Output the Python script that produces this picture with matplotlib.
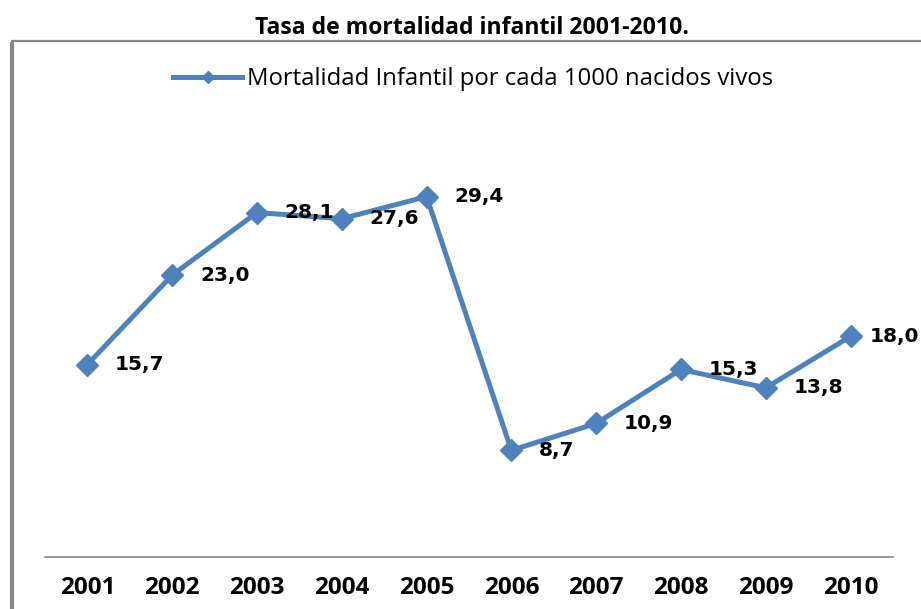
import matplotlib
matplotlib.use("Agg")
import matplotlib.pyplot as plt
from matplotlib.lines import Line2D

years = ["2001", "2002", "2003", "2004", "2005", "2006", "2007", "2008", "2009", "2010"]
mortality = [15.7, 23.0, 28.1, 27.6, 29.4, 8.7, 10.9, 15.3, 13.8, 18.0]
labels = ["15,7", "23,0", "28,1", "27,6", "29,4", "8,7", "10,9", "15,3", "13,8", "18,0"]
title = "Tasa de mortalidad infantil 2001-2010."
series_name = "Mortalidad Infantil por cada 1000 nacidos vivos"

blue = "#4F81BD"
gray = "#868686"

fig = plt.figure(figsize=(9.21, 6.09), dpi=100)
ax = fig.add_axes([45/921, 52/609, 848/921, 429/609])

x = list(range(len(years)))
ax.plot(x, mortality, color=blue, lw=3.6, marker="D", ms=11, mec=blue, mfc=blue, zorder=3)

for xi, yi, lab in zip(x, mortality, labels):
    off = 13.5 if xi == x[-1] else 20
    ax.annotate(lab, (xi, yi), xytext=(off, 0), textcoords="offset points",
                ha="left", va="center", fontsize=14.5, fontweight="bold",
                family="DejaVu Sans", color="black")

ax.set_xlim(-0.5, 9.5)
ax.set_ylim(0, 35)
ax.set_xticks(x)
ax.set_xticklabels(years, fontsize=17.5, fontweight="bold", family="Open Sans")
ax.tick_params(axis="x", length=0, pad=14)
ax.set_yticks([])
for s in ["top", "right", "left"]:
    ax.spines[s].set_visible(False)
ax.spines["bottom"].set_color(gray)
ax.spines["bottom"].set_linewidth(1.2)

# frame lines (chart area border)
fig.add_artist(Line2D([12/921, 12/921], [0, 1 - 42/609], transform=fig.transFigure,
                      color=gray, lw=3, solid_capstyle="butt"))
fig.add_artist(Line2D([11/921, 1], [1 - 41/609, 1 - 41/609], transform=fig.transFigure,
                      color=gray, lw=1.6, solid_capstyle="butt"))

fig.text(472/921, 1 - 28/609, title, ha="center", va="center", fontsize=16.6,
         fontweight="bold", family="Open Sans")

handle = Line2D([], [], color=blue, lw=3.6, marker="D", ms=6, mec=blue, mfc=blue)
fig.legend([handle], [series_name], loc="center", bbox_to_anchor=(473/921, 1 - 79/609),
           frameon=False, prop={"family": "Open Sans", "size": 17.2}, handlelength=2.9,
           handletextpad=0.2)

fig.savefig("out.png", dpi=100)
